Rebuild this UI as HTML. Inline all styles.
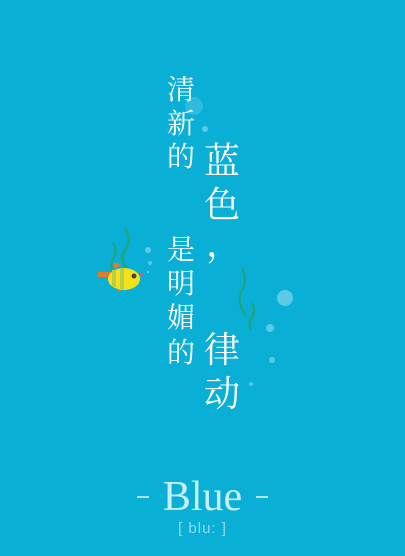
<!DOCTYPE html>
<html><head><meta charset="utf-8"><style>
body{margin:0;width:405px;height:556px;overflow:hidden;background:#0aafd6;position:relative;font-family:"Liberation Serif","Noto Serif CJK SC",serif;}
.c{position:absolute;color:#fff;line-height:1;}
.s{font-size:28px;}
.b{font-size:36px;}
.dash{position:absolute;width:12px;height:2px;background:#aee6f6;top:496px;}
</style></head><body>
<svg width="405" height="556" style="position:absolute;left:0;top:0">
<g fill="#7fd6ee" opacity="0.7">
<circle cx="194" cy="106" r="9" opacity="0.45"/>
<circle cx="205" cy="129" r="3"/>
<circle cx="148" cy="250" r="3"/>
<circle cx="150" cy="263" r="2"/>
<circle cx="148" cy="272" r="1.2"/>
<circle cx="285" cy="298" r="8"/>
<circle cx="270" cy="328" r="4"/>
<circle cx="272" cy="360" r="3"/>
<circle cx="251" cy="384" r="2"/>
</g>
<g fill="none" stroke="#22a47a" stroke-width="2.2">
<path d="M125 228 q7 12 0 22 q-6 10 2 18"/>
<path d="M113 243 q5 8 0 16 q-4 8 1 13"/>
<path d="M242 268 q6 12 0 22 q-6 12 4 26"/>
<path d="M252 303 q4 8 -1 16 q-3 6 0 11"/>
</g>
<g>
<rect x="98" y="272" width="14" height="5" fill="#e07b2a"/>
<path d="M113 264 q2-3 8 1 l-6 4z" fill="#e07b2a"/>
<path d="M117 292 l4-6 6 2z" fill="#e07b2a"/>
<ellipse cx="124" cy="279" rx="16" ry="11" fill="#f2e21a"/>
<rect x="112" y="270" width="4" height="17" fill="#b9cf44"/>
<rect x="120" y="268" width="4" height="21" fill="#b9cf44"/>
<circle cx="134" cy="276" r="2.5" fill="#5a3a4a"/>
<path d="M139 273 l4 1 -1 4z" fill="#e0507a"/>
</g>
</svg>
<div class="c s" style="left:167px;top:77px">清</div>
<div class="c s" style="left:167px;top:111px">新</div>
<div class="c s" style="left:167px;top:144px">的</div>
<div class="c b" style="left:204px;top:143px">蓝</div>
<div class="c b" style="left:204px;top:187px">色</div>
<div class="c b" style="left:206px;top:226px">，</div>
<div class="c s" style="left:167px;top:237px">是</div>
<div class="c s" style="left:167px;top:271px">明</div>
<div class="c s" style="left:167px;top:305px">媚</div>
<div class="c s" style="left:167px;top:340px">的</div>
<div class="c b" style="left:204px;top:332px">律</div>
<div class="c b" style="left:204px;top:376px">动</div>
<div class="dash" style="left:137px"></div>
<div class="dash" style="left:256px"></div>
<div class="c" style="left:0;width:405px;text-align:center;top:476px;font-size:42px;color:#c8eefa">Blue</div>
<div class="c" style="left:0;width:405px;text-align:center;top:521px;font-size:15px;color:#8fdaf0;letter-spacing:1px;font-family:'Liberation Sans',sans-serif">[ blu: ]</div>
</body></html>
